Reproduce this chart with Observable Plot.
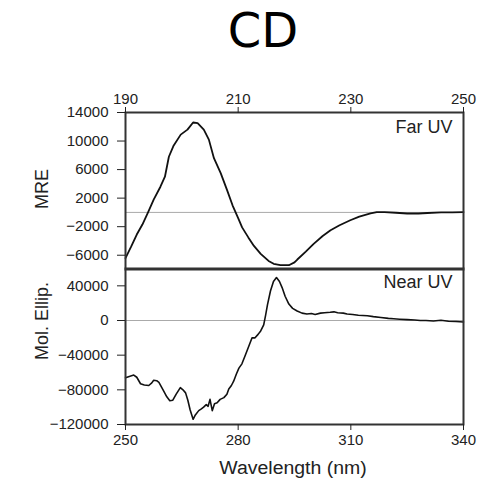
<!DOCTYPE html>
<html>
<head>
<meta charset="utf-8">
<script src="https://cdn.jsdelivr.net/npm/d3@7"></script>
<script src="https://cdn.jsdelivr.net/npm/@observablehq/plot@0.6"></script>
<style>
  body { margin: 0; background: #fff; }
  #wrap { position: relative; width: 498px; height: 480px; overflow: hidden; background: #fff;
          font-family: "Liberation Sans", Arial, sans-serif; color: #222; }
  #title { position: absolute; left: 163px; top: 6px; width: 200px; text-align: center;
           font-family: "DejaVu Sans", sans-serif; font-size: 48px; line-height: 1; color: #000; }
  #far { position: absolute; left: 0; top: 80px; }
  #near { position: absolute; left: 0; top: 268px; }
  .lab { position: absolute; font-size: 18px; line-height: 1; white-space: nowrap; }
  .ylab { transform: translate(-50%, -50%) rotate(-90deg); }
  .xlab { transform: translate(-50%, 0) scaleX(1.08); }
</style>
</head>
<body>
<div id="wrap">
  <div id="title">CD</div>
  <div id="far"></div>
  <div id="near"></div>
  <div id="farYLab" class="lab ylab" style="left:42px; top:189px;"></div>
  <div id="nearYLab" class="lab ylab" style="left:42px; top:321px;"></div>
  <div id="xLab" class="lab xlab" style="left:293px; top:459px;"></div>
</div>
<script>
// ---- Far UV data (wavelength nm, MRE) ----
const farWavelength = [190,191,192,193,194,195,196.2,197,197.7,198.5,199.8,201,202,202.8,203.9,204.8,205.7,206.9,208,209,210,210.7,211.8,212.8,214,215.4,216.3,217.5,219,220,220.5,222,223.4,225,226.4,228,229.9,231.5,233.5,234.6,236,238,240,242,243.6,246,248,250];
const farMRE =        [-6400,-4800,-3100,-1700,0,1800,3600,5000,7800,9300,10900,11600,12600,12500,11600,10200,7600,5500,3200,1000,-800,-2100,-3500,-4700,-5800,-6800,-7200,-7400,-7400,-7000,-6600,-5500,-4400,-3300,-2500,-1800,-1100,-600,-150,50,50,-50,-150,-150,-80,0,0,50];

// ---- Near UV data (wavelength nm, molar ellipticity) ----
const nearWavelength = [250,251,252.2,253,254,255,256.2,257,257.5,258.3,258.9,260,261,261.8,262.6,263.5,264.6,265.3,266,266.6,267.2,268,268.6,269.5,270.2,270.8,271.5,272,272.5,273.1,273.7,274.4,275.2,276.2,277,277.5,278.2,278.8,279.5,280.2,281,281.9,282.8,283.7,284.5,285.3,286,286.8,287.3,287.8,288.6,289.4,290.2,291,291.7,292.5,293.5,294.5,295.7,297,298.3,299.5,300.5,301.9,303,304.5,305.5,306.5,308,309,310.5,312,314.4,316,318,320,321.4,323,325,327,328.5,330,332,334,336,338,340];
const nearEllip = [-66000,-64500,-63000,-65500,-73000,-74500,-75000,-72000,-69000,-69500,-71500,-80000,-88000,-92500,-92000,-85000,-77500,-80000,-83500,-92000,-103000,-114000,-109000,-104000,-102000,-100000,-97000,-99000,-91000,-104000,-96000,-95000,-91000,-89000,-85000,-79000,-75000,-70000,-62000,-55000,-50000,-40000,-30000,-20000,-20000,-16000,-12000,-5000,6000,18000,34000,45000,49500,45000,38000,28000,19000,14000,11000,8500,7500,8000,7000,8500,9000,9500,10000,9000,8500,7500,7000,6000,5500,4500,3500,2500,2000,1500,1000,500,0,0,-500,200,-800,-1200,-1800];

// ---- Ticks & labels ----
const farXTicks = [190, 210, 230, 250];
const farYTicks = [14000, 10000, 6000, 2000, -2000, -6000];
const nearXTicks = [250, 280, 310, 340];
const nearYTicks = [40000, 0, -40000, -80000, -120000];
const farLabel = "Far UV";
const nearLabel = "Near UV";
const farYLabel = "MRE";
const nearYLabel = "Mol. Ellip.";
const xLabel = "Wavelength (nm)";

const far = farWavelength.map((w, i) => ({w, v: farMRE[i]}));
const near = nearWavelength.map((w, i) => ({w, v: nearEllip[i]}));

const fmt = d => d < 0 ? "\u2212" + Math.abs(d) : String(d);
const style = {fontFamily: "'Liberation Sans', Arial, sans-serif", fontSize: "15px", color: "#222", background: "transparent", overflow: "visible"};

const farPlot = Plot.plot({
  width: 498, height: 189,
  marginTop: 32, marginBottom: 0, marginLeft: 125, marginRight: 35,
  style,
  x: {domain: [190, 250]},
  y: {domain: [-8000, 14000]},
  marks: [
    Plot.ruleY([0], {stroke: "#aaa", strokeWidth: 1}),
    Plot.line(far, {x: "w", y: "v", stroke: "#111", strokeWidth: 1.8}),
    Plot.frame({stroke: "#333", strokeWidth: 2}),
    Plot.axisX({anchor: "top", ticks: farXTicks, tickSize: 6, tickPadding: 3, tickFormat: d => String(d), label: null}),
    Plot.axisY({ticks: farYTicks, tickSize: 8, tickPadding: 9, tickFormat: fmt, label: null}),
    Plot.text([farLabel], {frameAnchor: "top-right", dx: -11, dy: 20, lineAnchor: "bottom", fontSize: 18, fill: "#222"})
  ]
});

const nearPlot = Plot.plot({
  width: 498, height: 212,
  marginTop: 0, marginBottom: 56, marginLeft: 125, marginRight: 35,
  style,
  x: {domain: [250, 340]},
  y: {domain: [-120000, 60000]},
  marks: [
    Plot.ruleY([0], {stroke: "#aaa", strokeWidth: 1}),
    Plot.line(near, {x: "w", y: "v", stroke: "#111", strokeWidth: 1.6}),
    Plot.frame({stroke: "#333", strokeWidth: 2}),
    Plot.axisX({anchor: "bottom", ticks: nearXTicks, tickSize: 6, tickPadding: 4, tickFormat: d => String(d), label: null}),
    Plot.axisY({ticks: nearYTicks, tickSize: 8, tickPadding: 9, tickFormat: fmt, label: null}),
    Plot.text([nearLabel], {frameAnchor: "top-right", dx: -11, dy: 19, lineAnchor: "bottom", fontSize: 18, fill: "#222"})
  ]
});

document.getElementById("far").appendChild(farPlot);
document.getElementById("near").appendChild(nearPlot);
document.getElementById("farYLab").textContent = farYLabel;
document.getElementById("nearYLab").textContent = nearYLabel;
document.getElementById("xLab").textContent = xLabel;
</script>
</body>
</html>
